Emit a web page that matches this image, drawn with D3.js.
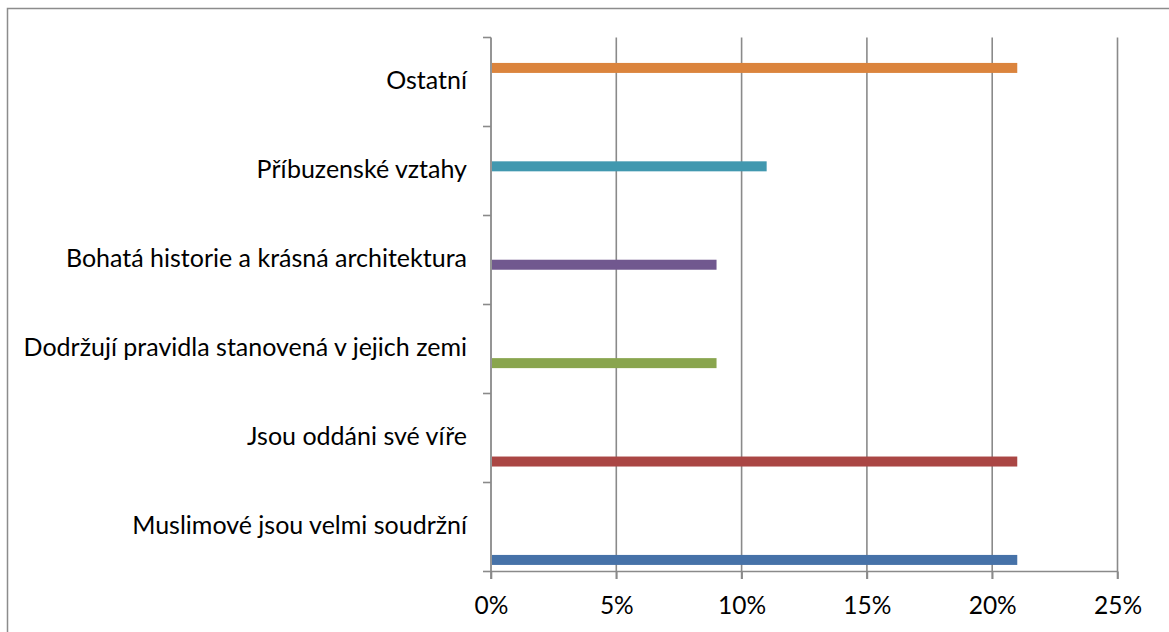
<!DOCTYPE html>
<html><head><meta charset="utf-8">
<script src="https://cdn.jsdelivr.net/npm/d3@7"></script>
<style>html,body{margin:0;padding:0;background:#fff;overflow:hidden}</style>
</head><body>
<svg id="chart" width="1169" height="632"></svg>
<script>
const categories = ["Muslimové jsou velmi soudržní","Jsou oddáni své víře","Dodržují pravidla stanovená v jejich zemi","Bohatá historie a krásná architektura","Příbuzenské vztahy","Ostatní"];
const values = [21, 21, 9, 9, 11, 21]; // percent, one series per category
const seriesColors = ["#4672A8","#AA4644","#89A54E","#71588F","#4198AF","#DB843D"];
const xTicks = [0,5,10,15,20,25];

(function(){
const svg = d3.select("#chart");
const W=1169,H=632;
const pLeft=491, pRight=1117.5, pTop=37.5, pBottom=571.5;
const font = "Lato, 'Open Sans', sans-serif";

// outer border (right/bottom edges beyond view)
svg.append("path").attr("d",`M7.5,${H+5} V8.5 H${W+5}`).attr("fill","none").attr("stroke","#8c8c8c").attr("stroke-width",1.5);

const x = d3.scaleLinear().domain([0,25]).range([pLeft,pRight]);
const y = d3.scaleBand().domain(categories.slice().reverse()).range([pTop,pBottom]);
const seriesIdx = d3.range(categories.length);
const sub = d3.scaleBand().domain(seriesIdx.slice().reverse()).range([0,y.bandwidth()]).paddingInner(0).paddingOuter(1.734).align(0.78);

// gridlines
svg.append("g").selectAll("line").data(xTicks.filter(d=>d>0)).join("line")
  .attr("x1",d=>x(d)).attr("x2",d=>x(d)).attr("y1",pTop).attr("y2",pBottom+7.5)
  .attr("stroke","#8a8a8a").attr("stroke-width",1.6);

// bottom axis
const xAxis = svg.append("g").attr("transform",`translate(0,${pBottom})`)
  .call(d3.axisBottom(x).tickValues(xTicks).tickFormat(d=>d+"%").tickSize(7.5).tickPadding(18));
xAxis.select(".domain").attr("stroke","#8a8a8a").attr("stroke-width",1.6).attr("d",`M${pLeft},0H${pRight}`);
xAxis.selectAll(".tick line").attr("stroke","#8a8a8a").attr("stroke-width",1.6);
xAxis.selectAll("text").attr("font-family",font).attr("font-size",24.5).attr("fill","#000");

// left axis
const boundaries = categories.map((c)=>y(c)).concat([pBottom]);
svg.append("line").attr("x1",pLeft).attr("x2",pLeft).attr("y1",pTop).attr("y2",pBottom+7.5).attr("stroke","#8a8a8a").attr("stroke-width",1.8);
svg.append("g").selectAll("line").data(boundaries).join("line")
  .attr("x1",pLeft-8).attr("x2",pLeft).attr("y1",d=>d).attr("y2",d=>d)
  .attr("stroke","#8a8a8a").attr("stroke-width",1.6);
svg.append("g").selectAll("text").data(categories).join("text")
  .attr("x",pLeft-24).attr("y",d=>y(d)+y.bandwidth()/2+7)
  .attr("text-anchor","end").attr("font-family",font).attr("font-size",25).attr("fill","#000")
  .text(d=>d);

// bars
svg.append("g").selectAll("rect").data(categories.map((c,i)=>({c,i,v:values[i]}))).join("rect")
  .attr("x",x(0)+1).attr("y",d=>y(d.c)+sub(d.i))
  .attr("width",d=>x(d.v)-x(0)-1).attr("height",sub.bandwidth()+0.6)
  .attr("fill",d=>seriesColors[d.i]);
})();
</script>
</body></html>
